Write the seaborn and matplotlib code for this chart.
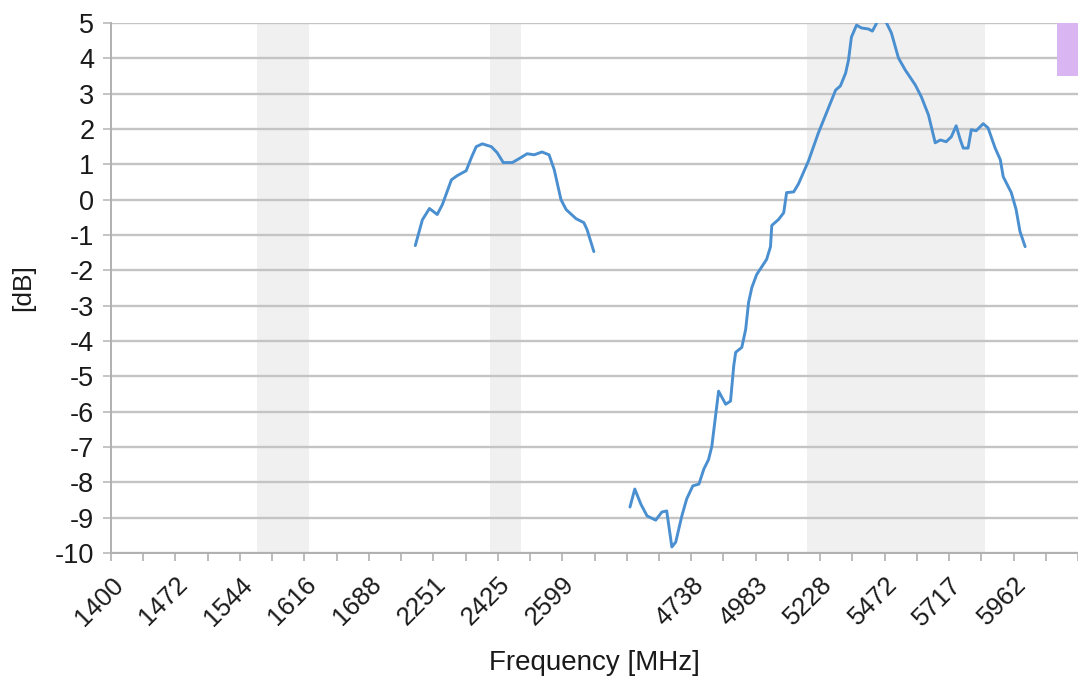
import numpy as np
import pandas as pd
import seaborn as sns
import matplotlib.pyplot as plt
from matplotlib.patches import Rectangle

# x positions are in axis-slot units (one slot per minor tick, labels on every 2nd slot)
tick_labels = ["1400", "1472", "1544", "1616", "1688", "2251", "2425", "2599", "",
               "4738", "4983", "5228", "5472", "5717", "5962", ""]

# lower band segment (around 2.4 GHz)
low_pos = [9.44, 9.66, 9.88, 10.12, 10.28, 10.56, 10.74, 11.02, 11.18, 11.33, 11.52,
           11.80, 11.98, 12.17, 12.45, 12.66, 12.91, 13.13, 13.37, 13.59, 13.75,
           13.96, 14.12, 14.43, 14.67, 14.77, 14.98]
low_db = [-1.30, -0.57, -0.25, -0.42, -0.14, 0.56, 0.68, 0.82, 1.19, 1.50, 1.58,
          1.50, 1.33, 1.05, 1.05, 1.16, 1.30, 1.27, 1.35, 1.27, 0.85,
          0.00, -0.28, -0.54, -0.65, -0.85, -1.47]

# upper band segment (around 5 GHz)
high_pos = [16.10, 16.25, 16.44, 16.63, 16.90, 17.09, 17.24, 17.40, 17.52, 17.71,
            17.86, 18.05, 18.24, 18.39, 18.54, 18.64, 18.85, 19.07, 19.22, 19.32,
            19.38, 19.57, 19.69, 19.78, 19.88, 20.03, 20.34, 20.46, 20.50, 20.71,
            20.87, 20.96, 21.18, 21.33, 21.64, 21.95, 22.26, 22.48, 22.63, 22.79,
            22.88, 22.97, 23.13, 23.28, 23.50, 23.62, 23.72, 23.87, 24.06, 24.21,
            24.43, 24.64, 24.95, 25.14, 25.36, 25.57, 25.73, 25.91, 26.07, 26.22,
            26.35, 26.44, 26.59, 26.69, 26.84, 27.06, 27.21, 27.43, 27.59, 27.68,
            27.93, 28.08, 28.20, 28.36]
high_db = [-8.70, -8.19, -8.62, -8.95, -9.07, -8.84, -8.81, -9.83, -9.69, -8.95,
           -8.47, -8.10, -8.05, -7.63, -7.35, -6.98, -5.42, -5.79, -5.70, -4.70,
           -4.32, -4.18, -3.67, -2.91, -2.49, -2.12, -1.69, -1.33, -0.73, -0.56,
           -0.37, 0.20, 0.22, 0.45, 1.10, 1.90, 2.60, 3.10, 3.22, 3.58,
           3.95, 4.60, 4.94, 4.86, 4.83, 4.77, 4.94, 5.20, 5.00, 4.72,
           4.01, 3.67, 3.25, 2.91, 2.40, 1.61, 1.69, 1.64, 1.78, 2.09,
           1.69, 1.46, 1.46, 1.98, 1.95, 2.15, 2.03, 1.46, 1.13, 0.65,
           0.20, -0.28, -0.90, -1.33]

# shaded frequency bands (slot units)
bands = [(4.52, 6.13), (11.76, 12.72), (21.58, 27.12)]

sns.set_theme(style="white")
plt.rcParams['font.family'] = ['Liberation Sans', 'DejaVu Sans']

df = pd.DataFrame({
    "pos": low_pos + high_pos,
    "db": low_db + high_db,
    "seg": ["low"] * len(low_pos) + ["high"] * len(high_pos),
})

fig = plt.figure(figsize=(10.78, 6.87), dpi=100)
ax = fig.add_axes([111 / 1078, 134 / 687, 967 / 1078, 530 / 687])

for a, b in bands:
    ax.axvspan(a, b, color="#f0f0f0", zorder=0, lw=0)

# purple marker box in the top-right corner
ax.add_patch(Rectangle((29.35, 3.5), 1.0, 1.5, facecolor="#d9b5f1", edgecolor="none", zorder=1))

for yv in range(-10, 6):
    ax.axhline(yv, color="#c4c4c4", lw=1.7, zorder=0.5)

sns.lineplot(data=df, x="pos", y="db", units="seg", estimator=None, sort=False,
             color="#4a8fd0", lw=2.1, ax=ax, zorder=3)

ax.set_xlim(0, 967 / 32.3)
ax.set_ylim(-10, 5)
ax.set_yticks(range(-10, 6))
ax.set_yticklabels([str(v) for v in range(-10, 6)])
ax.set_xticks(np.arange(0, 31, 2))
ax.set_xticklabels(tick_labels, rotation=45, ha="right", rotation_mode="anchor")
ax.set_xticks(np.arange(0, 31, 1), minor=True)

for s in ["top", "right"]:
    ax.spines[s].set_visible(False)
ax.spines["left"].set_color("#b0b0b0")
ax.spines["bottom"].set_color("#b0b0b0")
ax.spines["left"].set_linewidth(1.4)
ax.spines["bottom"].set_linewidth(1.4)

ax.tick_params(axis="y", which="major", length=6, width=1.4, color="#c4c4c4",
               labelsize=19.5, labelcolor="#1a1a1a", pad=6, left=True)
ax.tick_params(axis="x", which="major", length=6, width=1.2, color="#b0b0b0",
               labelsize=18.5, labelcolor="#1a1a1a", pad=8, bottom=True)
ax.tick_params(axis="x", which="minor", length=6, width=1.2, color="#b0b0b0", bottom=True)

ax.set_xlabel("Frequency [MHz]", fontsize=20, color="#1a1a1a", labelpad=14)
ax.set_ylabel("[dB]", fontsize=19, color="#1a1a1a", labelpad=14)
ax.set_facecolor("white")

fig.savefig("out.png", dpi=100)
